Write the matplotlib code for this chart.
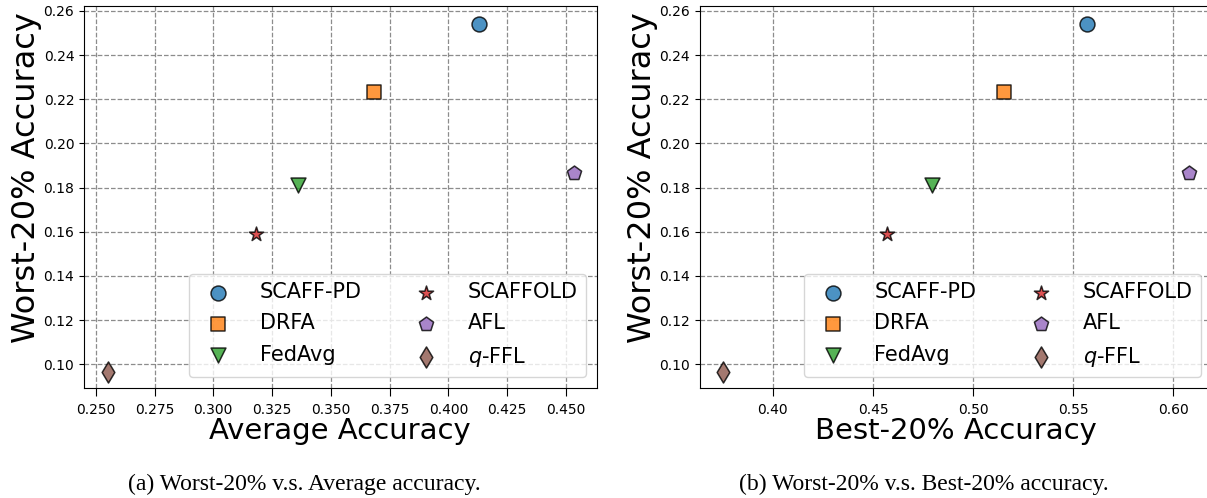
import matplotlib
matplotlib.use("Agg")
import matplotlib.pyplot as plt
from matplotlib.ticker import FormatStrFormatter

methods = ["SCAFF-PD", "DRFA", "FedAvg", "SCAFFOLD", "AFL", "$q$-FFL"]
markers = ["o", "s", "v", "*", "p", "d"]
colors = ["#1f77b4", "#ff7f0e", "#2ca02c", "#d62728", "#9467bd", "#8c564b"]

worst20 = [0.2540, 0.2232, 0.1810, 0.1592, 0.1866, 0.0966]
average = [0.4129, 0.3682, 0.3361, 0.3180, 0.4533, 0.2551]
best20 = [0.5566, 0.5153, 0.4797, 0.4570, 0.6080, 0.3750]

y_ticks = [0.10, 0.12, 0.14, 0.16, 0.18, 0.20, 0.22, 0.24, 0.26]
avg_ticks = [0.250, 0.275, 0.300, 0.325, 0.350, 0.375, 0.400, 0.425, 0.450]
best_ticks = [0.40, 0.45, 0.50, 0.55, 0.60]

W, H = 1207, 498
fig = plt.figure(figsize=(W / 100, H / 100), dpi=100)

def px_axes(x0, x1, y0, y1):
    return fig.add_axes([x0 / W, 1 - y1 / H, (x1 - x0) / W, (y1 - y0) / H])

ax1 = px_axes(84, 596.7, 6.3, 387.7)
ax2 = px_axes(699.5, 1211.5, 6.3, 387.7)

def draw(ax, xs, xlabel, xlim, xticks, fmt):
    ax.set_axisbelow(True)
    ax.grid(True, linestyle="--", color="gray", linewidth=0.9, alpha=0.9)
    for i in range(len(methods)):
        ax.scatter(xs[i], worst20[i], marker=markers[i], s=115, color=colors[i],
                   alpha=0.8, edgecolors="black", linewidths=1.1,
                   label=methods[i], zorder=3)
    ax.set_xlim(*xlim)
    ax.set_ylim(0.0894, 0.2621)
    ax.set_xticks(xticks)
    ax.set_yticks(y_ticks)
    ax.xaxis.set_major_formatter(FormatStrFormatter(fmt))
    ax.yaxis.set_major_formatter(FormatStrFormatter("%.2f"))
    ax.tick_params(labelsize=10)
    ax.tick_params(axis="x", length=5.5, pad=5.5)
    ax.set_xlabel(xlabel, fontsize=21)
    ax.set_ylabel("Worst-20% Accuracy", fontsize=23)
    ax.xaxis.set_label_coords(0.5, (387.7 - 431) / 381.4)
    ax.xaxis.label.set_va("center")
    ax.yaxis.set_label_coords(-0.112, (387.7 - 178) / 381.4)
    ax.yaxis.label.set_va("center")
    ax.legend(loc="lower right", ncol=2, fontsize=15, handletextpad=1.0,
              columnspacing=2.1, labelspacing=0.55, borderpad=0.4,
              scatterpoints=1)

draw(ax1, average, "Average Accuracy", (0.245, 0.4631), avg_ticks, "%.3f")
draw(ax2, best20, "Best-20% Accuracy", (0.3634, 0.6190), best_ticks, "%.2f")

fig.text(304 / W, 1 - 484 / H, "(a) Worst-20% v.s. Average accuracy.",
         family="Liberation Serif", fontsize=17, ha="center", va="center")
fig.text(923.5 / W, 1 - 484 / H, "(b) Worst-20% v.s. Best-20% accuracy.",
         family="Liberation Serif", fontsize=17, ha="center", va="center")

fig.savefig("out.png", dpi=100)
